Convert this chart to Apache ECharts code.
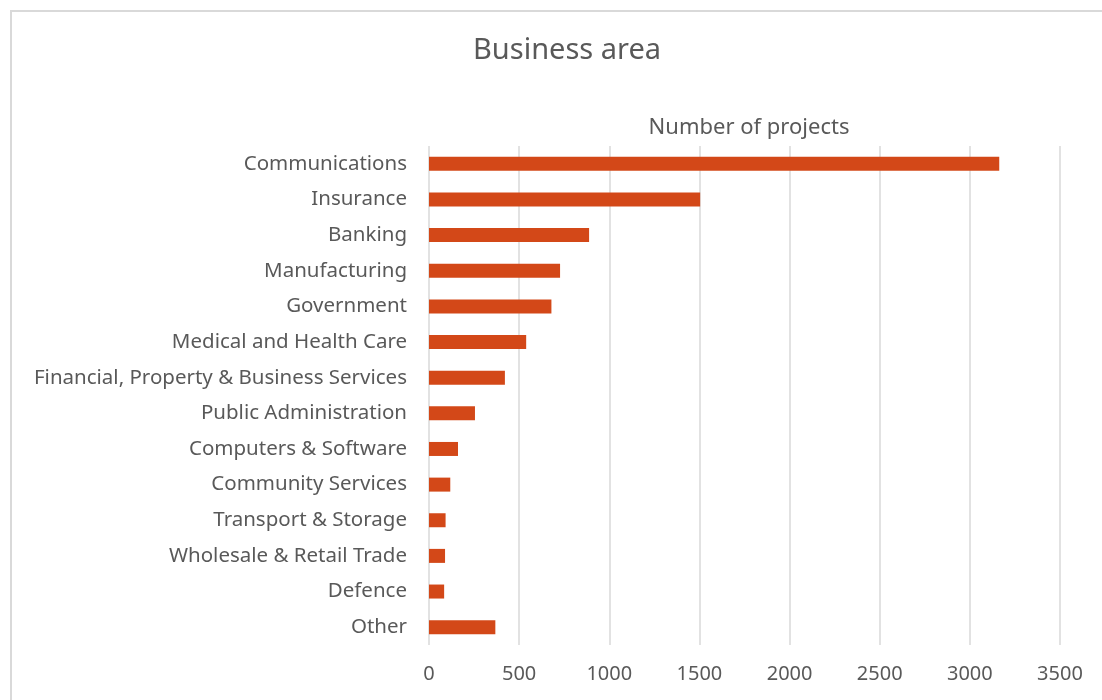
<!DOCTYPE html>
<html>
<head>
<meta charset="utf-8">
<script src="https://cdn.jsdelivr.net/npm/echarts@6/dist/echarts.min.js"></script>
<style>
  html, body { margin: 0; padding: 0; background: #fff; }
  #frame {
    position: absolute; left: 10px; top: 10px; width: 1092px; height: 690px;
    border-left: 2px solid #d9d9d9; border-top: 2px solid #d9d9d9; box-sizing: border-box;
  }
  #main { position: absolute; left: 0; top: 0; width: 1102px; height: 700px; }
</style>
</head>
<body>
<div id="frame"></div>
<div id="main"></div>
<script>
  // categories, top to bottom
  var categories = [
    'Communications',
    'Insurance',
    'Banking',
    'Manufacturing',
    'Government',
    'Medical and Health Care',
    'Financial, Property & Business Services',
    'Public Administration',
    'Computers & Software',
    'Community Services',
    'Transport & Storage',
    'Wholesale & Retail Trade',
    'Defence',
    'Other'
  ];
  var projects = [3163, 1504, 888, 727, 679, 539, 421, 255, 161, 118, 92, 89, 84, 368];
  var xTicks = [0, 500, 1000, 1500, 2000, 2500, 3000, 3500];

  var textColor = '#595959';
  var font = 'Noto Sans';

  var myChart = echarts.init(document.getElementById('main'));
  var option = {
    animation: false,
    title: [
      {
        text: 'Business area',
        left: 562, top: 31, textAlign: 'center',
        textStyle: { fontFamily: font, fontSize: 29, fontWeight: 'normal', color: textColor }
      },
      {
        text: 'Number of projects',
        left: 744, top: 112, textAlign: 'center',
        textStyle: { fontFamily: font, fontSize: 22, fontWeight: 'normal', color: textColor }
      }
    ],
    grid: { left: 429, right: 42, top: 146, bottom: 55 },
    xAxis: {
      type: 'value',
      min: xTicks[0],
      max: xTicks[xTicks.length - 1],
      interval: 500,
      axisLine: { show: false },
      axisTick: { show: false },
      axisLabel: {
        margin: 19, color: textColor, fontFamily: font, fontSize: 20,
        formatter: function (v) { return String(v); }
      },
      splitLine: { lineStyle: { color: '#d9d9d9', width: 1.5 } }
    },
    yAxis: {
      type: 'category',
      data: categories,
      inverse: true,
      axisLine: { show: false },
      axisTick: { show: false },
      axisLabel: { margin: 22, color: textColor, fontFamily: font, fontSize: 20.5 }
    },
    series: [{
      type: 'bar',
      data: projects,
      barWidth: 14,
      itemStyle: { color: '#D34818' }
    }]
  };
  myChart.setOption(option);
  window.addEventListener('resize', myChart.resize);
</script>
</body>
</html>
